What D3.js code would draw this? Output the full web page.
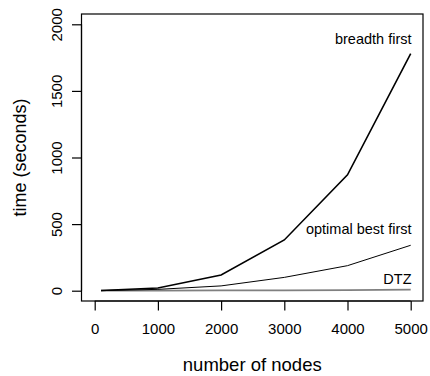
<!DOCTYPE html>
<html><head><meta charset="utf-8">
<script src="https://cdn.jsdelivr.net/npm/d3@7"></script>
<style>body{margin:0;background:#fff}svg{display:block}text{font-family:"Liberation Sans",Arial,sans-serif;fill:#000}</style>
</head><body><svg id="c" width="430" height="376"></svg>
<script>
const nodes = [100, 1000, 2000, 3000, 4000, 5000];
const breadthFirst = [1, 20, 118, 381, 870, 1780];
const optimalBestFirst = [0.5, 10, 36, 100, 188, 341];
const dtz = [0.2, 1, 2, 3, 5, 8];
const xTicks = [0, 1000, 2000, 3000, 4000, 5000];
const yTicks = [0, 500, 1000, 1500, 2000];
const seriesLabels = ["breadth first", "optimal best first", "DTZ"];

const svg = d3.select("#c");
const box = {l: 81.5, r: 423, t: 14, b: 301};
const x = d3.scaleLinear().domain([0, 5000]).range([94.7, 410.7]);
const y = d3.scaleLinear().domain([0, 2000]).range([290.7, 24.3]);
const FONT = "Liberation Sans, Arial, sans-serif";

svg.append("rect").attr("x", box.l).attr("y", box.t).attr("width", box.r - box.l).attr("height", box.b - box.t)
  .attr("fill", "none").attr("stroke", "#000").attr("stroke-width", 1.2);

const xAxis = svg.append("g").attr("transform", `translate(0,${box.b})`)
  .call(d3.axisBottom(x).tickValues(xTicks).tickSize(9.5).tickFormat(d3.format("d")));
xAxis.select(".domain").attr("stroke-width", 1.2).attr("d", `M${x(0)},0H${x(5000)}`);
xAxis.selectAll(".tick line").attr("stroke-width", 1.2);
xAxis.selectAll(".tick text").attr("font-size", 15).style("font-family", FONT)
  .attr("y", 32.5).attr("dy", null);

const yAxis = svg.append("g").attr("transform", `translate(${box.l},0)`)
  .call(d3.axisLeft(y).tickValues(yTicks).tickSize(9.5).tickFormat(d3.format("d")));
yAxis.select(".domain").attr("stroke-width", 1.2).attr("d", `M0,${y(0)}V${y(2000)}`);
yAxis.selectAll(".tick line").attr("stroke-width", 1.2);
yAxis.selectAll(".tick text").attr("font-size", 15).style("font-family", FONT)
  .attr("x", null).attr("y", 0).attr("dy", null).attr("text-anchor", "middle")
  .attr("transform", "translate(-19.5,0) rotate(-90)");

const line = d3.line().x((d, i) => x(nodes[i])).y(d => y(d));
svg.append("path").datum(dtz).attr("d", line).attr("fill", "none").attr("stroke", "#808080").attr("stroke-width", 1.8);
svg.append("path").datum(optimalBestFirst).attr("d", line).attr("fill", "none").attr("stroke", "#000").attr("stroke-width", 1);
svg.append("path").datum(breadthFirst).attr("d", line).attr("fill", "none").attr("stroke", "#000").attr("stroke-width", 1.6);

const labY = [44, 234, 284];
seriesLabels.forEach((t, i) => {
  svg.append("text").attr("x", 411.5).attr("y", labY[i]).attr("text-anchor", "end").attr("font-size", 14.5).text(t);
});

svg.append("text").attr("x", (box.l + box.r) / 2).attr("y", 370.7).attr("text-anchor", "middle").attr("font-size", 18.5).text("number of nodes");
svg.append("text").attr("transform", `translate(26,${(box.t + box.b) / 2}) rotate(-90)`).attr("text-anchor", "middle").attr("font-size", 18).text("time (seconds)");
</script></body></html>
